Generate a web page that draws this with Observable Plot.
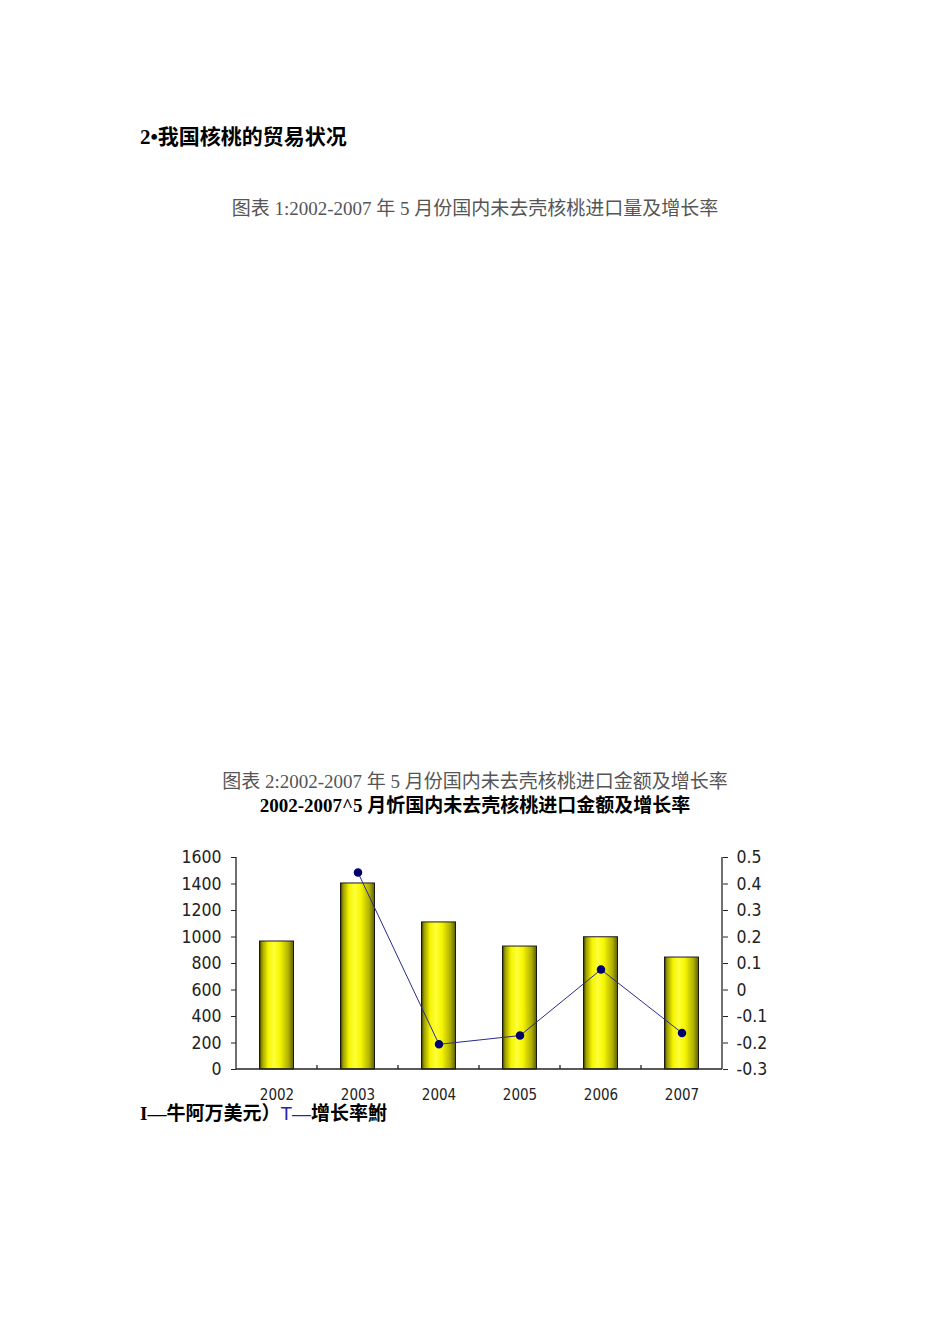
<!DOCTYPE html>
<html><head><meta charset="utf-8">
<script src="https://cdn.jsdelivr.net/npm/d3@7"></script>
<script src="https://cdn.jsdelivr.net/npm/@observablehq/plot@0.6"></script>
<style>
body{margin:0;background:#fff;}
#page{position:relative;width:950px;height:1344px;overflow:hidden;font-family:"Liberation Serif","Noto Sans CJK SC",serif;}
.t{position:absolute;white-space:nowrap;line-height:1;}
#h{left:140px;top:127px;font-size:21px;font-weight:bold;color:#000;}
#c1{left:0;width:950px;text-align:center;top:199px;font-size:19px;color:#555;}
#c2{left:0;width:950px;text-align:center;top:772px;font-size:19px;color:#555;}
#ttl{left:0;width:950px;text-align:center;top:796px;font-size:19px;font-weight:bold;color:#000;}
#lg{left:140px;top:1104px;font-size:19px;font-weight:bold;color:#000;}
#lg .blue{color:#2323b4;font-family:"Liberation Sans","Noto Sans CJK SC",sans-serif;font-weight:normal;}
#chart{position:absolute;left:170px;top:845px;}
#chart svg text{font-stretch:condensed;}
</style></head>
<body>
<div id="page">
  <div class="t" id="h">2•我国核桃的贸易状况</div>
  <div class="t" id="c1">图表 1:2002-2007 年 5 月份国内未去壳核桃进口量及增长率</div>
  <div class="t" id="c2">图表 2:2002-2007 年 5 月份国内未去壳核桃进口金额及增长率</div>
  <div class="t" id="ttl">2002-2007^5 月忻国内未去壳核桃进口金额及增长率</div>
  <div id="chart"></div>
  <div class="t" id="lg">I—牛阿万美元）<span class="blue">T—</span>增长率鮒</div>
</div>
<script>
const years = ["2002", "2003", "2004", "2005", "2006", "2007"];
const amounts = [966, 1404, 1110, 928, 998, 845];
const growth = [null, 0.443, -0.205, -0.172, 0.077, -0.162];
const leftTicks = [0, 200, 400, 600, 800, 1000, 1200, 1400, 1600];
const rightTicks = [-0.3, -0.2, -0.1, 0, 0.1, 0.2, 0.3, 0.4, 0.5];
const rightMin = -0.3, rightMax = 0.5, leftMax = 1600;

const toLeft = g => (g - rightMin) / (rightMax - rightMin) * leftMax;

const bars = years.map((y, i) => ({year: y, value: amounts[i]}));
const pts = years.map((y, i) => ({year: y, g: growth[i]})).filter(d => d.g !== null);

function axisLines(index, scales, values, dims) {
  const {x} = scales;
  const left = dims.marginLeft, right = dims.width - dims.marginRight;
  const top = dims.marginTop, bottom = dims.height - dims.marginBottom;
  const g = d3.create("svg:g").attr("stroke", "#222").attr("stroke-width", 1.3).attr("fill", "none");
  g.append("line").attr("x1", left).attr("x2", left).attr("y1", top).attr("y2", bottom);
  g.append("line").attr("x1", right).attr("x2", right).attr("y1", top).attr("y2", bottom);
  g.append("line").attr("x1", left).attr("x2", right).attr("y1", bottom).attr("y2", bottom);
  for (const yr of years.slice(1)) {
    const px = x(yr);
    g.append("line").attr("x1", px).attr("x2", px).attr("y1", bottom).attr("y2", bottom - 4);
  }
  return g.node();
}

const chart = Plot.plot({
  width: 610,
  height: 270,
  marginLeft: 66,
  marginRight: 58,
  marginTop: 12,
  marginBottom: 46,
  style: {fontFamily: '"DejaVu Sans Condensed","Liberation Sans Narrow","DejaVu Sans",sans-serif', fontSize: "17.5px", color: "#222", background: "transparent"},
  x: {type: "band", domain: years, padding: 0, axis: null},
  y: {domain: [0, leftMax], axis: null},
  marks: [
    Plot.barY(bars, {x: "year", y: "value", insetLeft: 23.5, insetRight: 23.5, fill: "url(#cyl)", stroke: "#1a1a1a", strokeWidth: 1}),
    Plot.line(pts, {x: "year", y: d => toLeft(d.g), stroke: "#2b2b8c", strokeWidth: 1}),
    Plot.dot(pts, {x: "year", y: d => toLeft(d.g), r: 3.5, fill: "#00006e", stroke: "#00006e"}),
    axisLines,
    Plot.axisY(leftTicks, {anchor: "left", label: null, tickSize: 5, tickPadding: 10, tickFormat: d => String(d), stroke: "#222"}),
    Plot.axisY(rightTicks.map(toLeft), {anchor: "right", label: null, tickSize: 5, tickPadding: 9, tickFormat: v => String(Math.round((v / leftMax * (rightMax - rightMin) + rightMin) * 10) / 10), stroke: "#222"}),
    Plot.axisX(years, {anchor: "bottom", label: null, tickSize: 0, tickPadding: 20, fontSize: 15})
  ]
});

const ns = "http://www.w3.org/2000/svg";
const defs = document.createElementNS(ns, "defs");
const grad = document.createElementNS(ns, "linearGradient");
grad.setAttribute("id", "cyl");
grad.setAttribute("x1", "0"); grad.setAttribute("x2", "1");
grad.setAttribute("y1", "0"); grad.setAttribute("y2", "0");
[[0, "#303000"], [0.07, "#9a9a00"], [0.25, "#f4f400"], [0.42, "#ffff3a"], [0.6, "#f6f600"], [0.85, "#b0b000"], [1, "#5e5e00"]].forEach(([o, c]) => {
  const s = document.createElementNS(ns, "stop");
  s.setAttribute("offset", o); s.setAttribute("stop-color", c);
  grad.appendChild(s);
});
defs.appendChild(grad);
chart.prepend(defs);
document.getElementById("chart").appendChild(chart);
</script>
</body></html>
